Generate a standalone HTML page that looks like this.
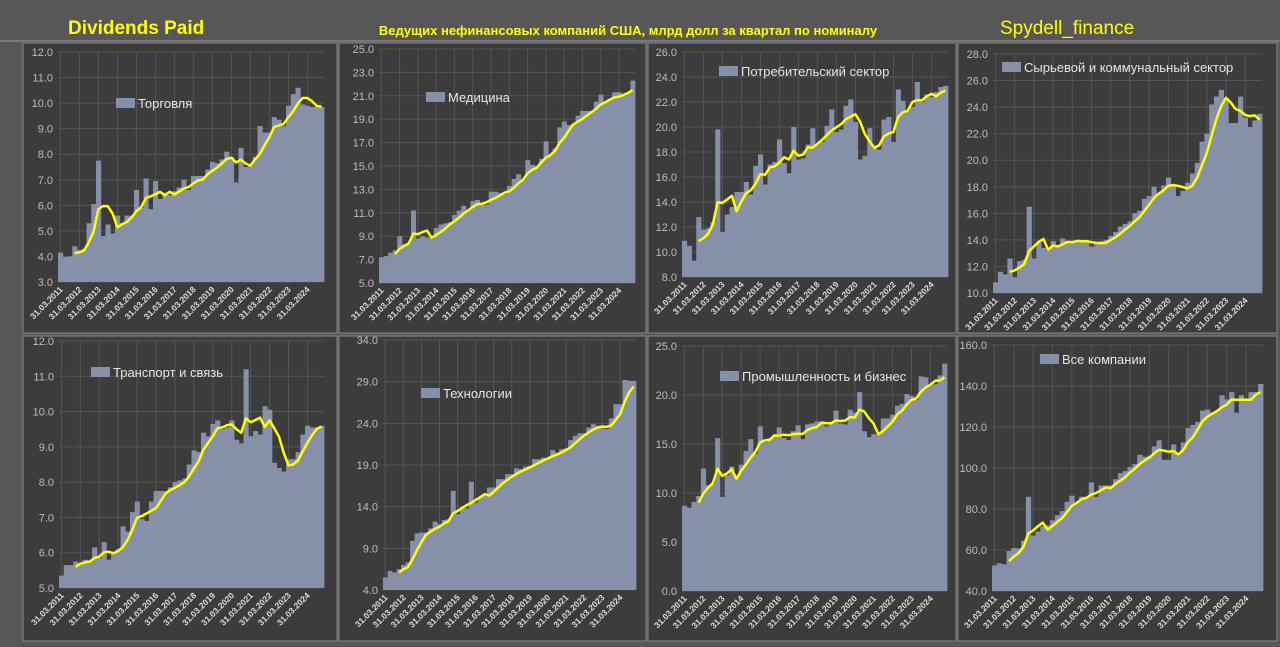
<!DOCTYPE html>
<html><head><meta charset="utf-8"><style>
html,body{margin:0;padding:0;background:#575757;}
svg{display:block;font-family:"Liberation Sans","DejaVu Sans",sans-serif;}
</style></head><body>
<svg id="root" width="1280" height="647" viewBox="0 0 1280 647">
<rect x="0" y="0" width="1280" height="647" fill="#575757"/>
<line x1="0" y1="41" x2="1280" y2="41" stroke="#9a9a9a" stroke-width="1"/>
<text x="68" y="34" fill="#ffff00" font-size="19" font-weight="bold">Dividends Paid</text>
<text x="628" y="35" fill="#ffff00" font-size="13" font-weight="bold" text-anchor="middle">Ведущих нефинансовых компаний США, млрд долл за квартал по номиналу</text>
<text x="1000" y="34" fill="#ffff00" font-size="19">Spydell_finance</text>
</svg>
<script>
const years = [2011,2012,2013,2014,2015,2016,2017,2018,2019,2020,2021,2022,2023,2024];
const tradeValues = [4.15,3.98,4.0,4.4, 4.25,4.3,5.3,6.05, 7.75,4.8,5.25,4.9, 5.6,5.3,5.6,5.6, 6.6,5.9,7.05,5.85, 6.95,6.25,6.5,6.4, 6.55,6.7,7.0,6.6, 7.15,7.15,7.15,7.4, 7.7,7.65,7.8,8.1, 7.9,6.9,8.25,7.5, 7.55,7.9,9.1,8.85, 8.85,9.45,9.35,9.1, 9.9,10.35,10.6,9.95, 9.9,9.85,9.85,9.85];
const medValues = [7.2,7.3,7.6,7.8, 9.0,8.3,8.4,11.2, 8.8,9.0,8.9,8.8, 9.7,10.0,10.1,10.2, 10.8,11.2,11.6,11.2, 12.0,12.1,11.8,11.7, 12.8,12.8,12.7,12.6, 13.3,13.9,14.3,13.8, 15.5,15.1,15.0,15.6, 17.1,16.0,16.5,18.3, 18.8,18.5,18.6,19.3, 19.7,19.7,19.7,20.5, 21.1,20.5,20.6,21.3, 21.3,21.1,21.3,22.3];
const consValues = [10.9,10.5,9.3,12.8, 11.8,11.9,12.4,19.8, 11.6,13.0,13.6,14.8, 14.8,15.6,14.6,16.9, 17.8,15.4,17.0,17.2, 19.0,17.1,16.3,20.0, 17.4,17.5,18.6,19.9, 18.6,18.8,20.1,21.4, 19.6,19.8,21.7,22.2, 20.4,17.4,17.7,19.9, 18.3,18.2,20.6,20.8, 18.8,23.0,22.1,21.3, 21.6,23.6,22.0,22.6, 22.4,22.8,23.2,23.3];
const resValues = [10.8,11.6,11.4,12.6, 11.2,12.4,12.5,16.5, 12.6,13.8,13.4,13.2, 13.9,13.5,14.1,13.9, 13.8,13.9,14.0,13.9, 13.5,13.7,13.9,14.0, 14.3,14.6,15.0,15.2, 15.4,16.0,16.2,17.1, 17.3,18.0,17.5,18.1, 18.7,18.2,17.3,17.7, 18.3,19.0,19.8,21.4, 22.0,24.2,24.8,25.3, 24.5,22.8,22.8,24.8, 23.2,22.5,23.0,23.5];
const transValues = [5.35,5.65,5.65,5.75, 5.7,5.8,5.75,6.15, 5.85,6.3,5.8,6.0, 6.1,6.75,6.6,7.15, 7.45,6.95,6.9,7.45, 7.75,7.75,7.75,7.85, 8.0,8.05,8.1,8.5, 8.9,8.85,9.4,9.3, 9.65,9.75,9.5,9.55, 9.75,9.2,9.1,11.2, 9.3,9.45,9.35,10.15, 10.05,8.55,8.4,8.3, 8.65,8.65,8.85,9.35, 9.6,9.55,9.55,9.6];
const techValues = [5.5,6.3,6.1,6.5, 7.0,7.3,9.9,10.8, 10.9,10.9,11.4,12.2, 11.9,12.4,12.5,15.9, 13.1,13.9,13.8,17.0, 14.5,15.2,15.3,16.3, 16.3,17.3,17.3,17.9, 17.9,18.6,18.5,18.8, 18.9,19.7,19.7,19.9, 19.8,20.8,20.5,20.9, 21.0,22.0,22.5,22.8, 22.8,23.5,23.9,23.7, 23.4,23.3,24.6,26.3, 26.3,29.2,29.1,29.1];
const indValues = [8.7,8.5,9.1,9.7, 12.5,10.8,11.0,15.6, 9.6,11.8,12.7,11.7, 12.9,14.3,15.5,14.0, 16.8,15.2,15.6,15.9, 16.7,15.6,15.4,16.3, 16.9,15.5,17.0,17.1, 17.3,17.3,16.8,17.1, 18.4,17.1,17.0,18.5, 18.2,20.3,16.3,15.7, 16.0,16.0,17.6,17.6, 18.0,18.9,19.1,20.1, 19.9,19.5,21.9,21.8, 21.0,21.1,22.0,23.2];
const allValues = [52.5,53.5,53.0,59.5, 61.0,60.8,64.5,86.0, 67.0,69.0,71.5,72.0, 74.5,77.0,79.0,83.5, 86.5,83.0,86.0,86.0, 93.0,86.0,91.5,91.5, 91.5,94.5,97.5,98.5, 100.5,102.0,106.5,105.5, 106.0,110.5,113.5,104.0, 104.0,111.5,107.0,112.5, 119.5,121.0,122.5,128.0, 128.5,127.0,127.5,135.5, 133.5,137.0,127.0,135.5, 133.5,137.0,137.0,141.0];

const yTicksTrade=[3,4,5,6,7,8,9,10,11,12];
const yTicksMed=[5,7,9,11,13,15,17,19,21,23,25];
const yTicksCons=[8,10,12,14,16,18,20,22,24,26];
const yTicksRes=[10,12,14,16,18,20,22,24,26,28];
const yTicksTrans=[5,6,7,8,9,10,11,12];
const yTicksTech=[4,9,14,19,24,29,34];
const yTicksInd=[0,5,10,15,20,25];
const yTicksAll=[40,60,80,100,120,140,160];

const NS="http://www.w3.org/2000/svg";
const svg=document.getElementById('root');
function mk(tag,attrs,parent){const e=document.createElementNS(NS,tag);for(const k in attrs)e.setAttribute(k,attrs[k]);(parent||svg).appendChild(e);return e;}

const panels=[
 {name:'trade',label:'Торговля',vals:tradeValues,ticks:yTicksTrade,box:[23,43,314,290],px:[58,324],py:[52,282],leg:[116,103]},
 {name:'medicine',label:'Медицина',vals:medValues,ticks:yTicksMed,box:[339,43,307,290],px:[379,635],py:[49,283],leg:[426,97]},
 {name:'consumer',label:'Потребительский сектор',vals:consValues,ticks:yTicksCons,box:[648,43,308,290],px:[682,948],py:[52,277],leg:[719,71]},
 {name:'resources',label:'Сырьевой и коммунальный сектор',vals:resValues,ticks:yTicksRes,box:[958,43,319,290],px:[993,1262],py:[54,293],leg:[1002,67]},
 {name:'transport',label:'Транспорт и связь',vals:transValues,ticks:yTicksTrans,box:[23,336,314,305],px:[59,324],py:[341,588],leg:[91,372]},
 {name:'technology',label:'Технологии',vals:techValues,ticks:yTicksTech,box:[339,336,307,305],px:[383,636],py:[340,590],leg:[421,393]},
 {name:'industry',label:'Промышленность и бизнес',vals:indValues,ticks:yTicksInd,box:[648,336,308,305],px:[682,947],py:[346,591],leg:[720,376]},
 {name:'all-companies',label:'Все компании',vals:allValues,ticks:yTicksAll,box:[958,336,319,305],px:[992,1263],py:[345,591],leg:[1040,359]}
];

panels.forEach(p=>{
  const g=mk('g',{});
  
  
  const bg=mk('rect',{x:p.box[0],y:p.box[1],width:p.box[2],height:p.box[3],fill:'#3c3c3c',stroke:'#8a8a8a','stroke-width':1},g);
  
  
  const t0=p.ticks[0],t1=p.ticks[p.ticks.length-1];
  const n=p.vals.length;
  const bw=(p.px[1]-p.px[0])/n;
  const xs=i=>p.px[0]+i*bw;
  const ys=v=>p.py[1]-(v-t0)/(t1-t0)*(p.py[1]-p.py[0]);
  p.ticks.forEach(t=>{
    const y=ys(t);
    const gl=mk('line',{x1:p.px[0],x2:p.px[1],y1:y,y2:y,stroke:'#555','stroke-width':1},g);
    
    
    const tl=mk('text',{x:p.px[0]-5,y:y+4,'text-anchor':'end','font-size':11,fill:'#bdbdbd'},g);
    tl.textContent=t.toFixed(1);
    
    
  });
  years.forEach((yr,k)=>{
    const x=xs(k*4)+bw/2;
    const gl=mk('line',{x1:x,x2:x,y1:p.py[0],y2:p.py[1],stroke:'#555','stroke-width':1},g);
    
    
    const ly=p.py[1]+8;
    const tl=mk('text',{x:x+3,y:ly,'text-anchor':'end','font-size':8.5,'font-weight':'bold',fill:'#dcdcdc',transform:`rotate(-45 ${x+3} ${ly})`},g);
    tl.textContent='31.03.'+yr;
    
    
  });
  p.vals.forEach((v,i)=>{
    const b=mk('rect',{x:xs(i),y:ys(v),width:bw+0.4,height:p.py[1]-ys(v),fill:'#8690a8'},g);
    
    
  });
  const pts=[];
  for(let i=3;i<n;i++){const m=(p.vals[i]+p.vals[i-1]+p.vals[i-2]+p.vals[i-3])/4;pts.push(`${(xs(i)+bw/2).toFixed(1)},${ys(m).toFixed(1)}`);}
  const ln=mk('polyline',{points:pts.join(' '),fill:'none',stroke:'#ffff00','stroke-width':2.5,'stroke-linejoin':'round'},g);
  
  
  const sw=mk('rect',{x:p.leg[0],y:p.leg[1]-5,width:19,height:10,fill:'#8690a8'},g);
  
  
  const lt=mk('text',{x:p.leg[0]+22,y:p.leg[1]+5,'font-size':13,fill:'#e6e6e6'},g);
  lt.textContent=p.label;
  
  
});
</script>
</body></html>
